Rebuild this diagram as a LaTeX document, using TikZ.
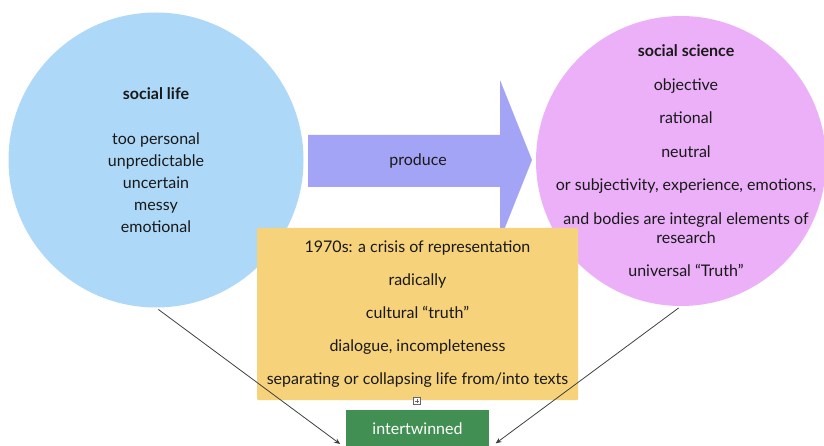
\documentclass[tikz,border=0pt]{standalone}
\usepackage{fontspec}
\setmainfont{Lato}
\usetikzlibrary{arrows.meta}

\definecolor{lifeblue}{HTML}{ADD8F8}
\definecolor{sciviolet}{HTML}{EBB0F8}
\definecolor{prodblue}{HTML}{A4A4F7}
\definecolor{crisisyellow}{HTML}{F6D27A}
\definecolor{twingreen}{HTML}{418F52}

\begin{document}
\begin{tikzpicture}[x=1pt, y=-1pt, every node/.style={
    font=\fontsize{16}{19}\selectfont,
    text=black!90,
    align=center,
    inner sep=0pt}]

    \useasboundingbox (0,0) rectangle (824,446);
    \clip (0,0) rectangle (824,446);

    \node[circle, fill=lifeblue, minimum size=295pt] (life) at (156,160) {};
    \node[circle, fill=sciviolet, minimum size=290pt] (sci) at (681,161) {};
    \node (lifetext) at (life.center)
        {\textbf{social life}\\[26pt]
         too personal\\[3pt] unpredictable\\[3pt] uncertain\\[3pt] messy\\[3pt] emotional};
    \node (scitext) at ([xshift=5pt]sci.center)
        {\textbf{social science}\\[14.5pt]
         objective\\[14.5pt] rational\\[14.5pt] neutral\\[14.5pt]
         or subjectivity, experience, emotions,\\[14.5pt]
         and bodies are integral elements of\\ research\\[14.5pt]
         universal “Truth”};

    % big arrow between the two circles
    \fill[prodblue] (308,135) -- (500,135) -- (500,80) -- (532,160)
        -- (500,240) -- (500,187) -- (308,187) -- cycle;
    \node (prod) at (418,161) {produce};

    \node[fill=crisisyellow, rounded corners=1pt, minimum width=321pt, minimum height=172pt] (crisis) at (417.5,314)
        {1970s: a crisis of representation\\[14pt]
         radically\\[14pt]
         cultural “truth”\\[14pt]
         dialogue, incompleteness\\[14pt]
         separating or collapsing life from/into texts};

    \node[draw=black!60, fill=white, minimum size=7pt, line width=0.6pt] (plus) at (417,401) {};
    \draw[black!60, line width=0.6pt] ([yshift=-1.5pt]plus.north) -- ([yshift=1.5pt]plus.south)
        ([xshift=1.5pt]plus.west) -- ([xshift=-1.5pt]plus.east);

    \node[fill=twingreen, text=white, minimum width=143pt, minimum height=38pt] (twin) at (417.5,429) {intertwinned};

    \draw[-{Stealth[length=6pt,width=5pt]}, black!75, line width=0.8pt, shorten <=3pt, shorten >=7pt] (life.south) -- (twin.south west);
    \draw[-{Stealth[length=6pt,width=5pt]}, black!75, line width=0.8pt, shorten <=3pt, shorten >=8pt] (sci.south) -- (twin.south east);
\end{tikzpicture}
\end{document}
